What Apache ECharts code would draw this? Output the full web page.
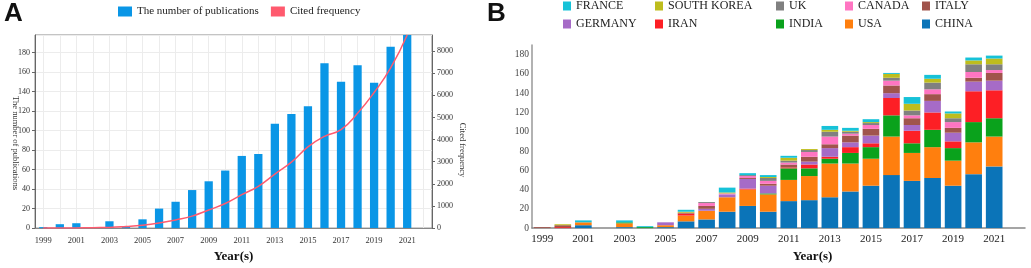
<!DOCTYPE html>
<html>
<head>
<meta charset="utf-8">
<script src="https://cdn.jsdelivr.net/npm/echarts@6/dist/echarts.min.js"></script>
<style>
  html, body { margin: 0; padding: 0; background: #fff; }
  #main { width: 1031px; height: 268px; }
</style>
</head>
<body>
<div id="main"></div>
<script>
// categories (the last slot, 2022, stays empty in both panels)
var years = ['1999','2000','2001','2002','2003','2004','2005','2006','2007','2008','2009','2010',
             '2011','2012','2013','2014','2015','2016','2017','2018','2019','2020','2021','2022'];

// panel A
var publications = [1,4,5,0,7,2,9,20,27,39,48,59,74,76,107,117,125,169,150,167,149,186,198];
var citedFreq = [0,5,10,20,30,70,130,230,370,540,820,1110,1510,1890,2440,2980,3670,4150,4450,5190,6130,7240,8730];

// panel B, stacked from the bottom
var china      = [0,0,3,0,1,0,1,7,9,17,23,17,28,29,32,38,44,55,49,52,44,56,64];
var usa        = [0,0,3,0,4,0,2,6,9,15,17,18,22,25,35,29,28,40,29,32,26,33,31];
var india      = [0,0,0,0,1,1,0,0,0,0,0,1,12,8,5,11,12,22,10,18,13,21,19];
var iran       = [0,1,0,0,0,0,0,2,0,0,1,0,1,4,2,6,4,18,13,18,7,32,29];
var germany    = [0,0,0,0,0,0,3,0,2,3,10,8,0,3,9,5,8,5,6,12,9,10,10];
var italy      = [1,2,0,0,0,0,0,1,3,0,1,2,3,5,4,7,7,8,7,7,5,4,8];
var canada     = [0,0,0,0,0,0,0,0,3,1,2,3,2,5,8,2,4,5,3,5,6,6,3];
var uk         = [0,0,0,0,0,0,0,0,1,0,1,3,2,2,5,2,2,3,5,7,4,8,6];
var southKorea = [0,1,0,0,0,0,0,1,0,1,0,1,3,1,2,1,1,4,7,4,5,4,6];
var france     = [0,0,2,0,2,1,0,2,0,5,2,2,2,0,4,3,3,1,7,4,2,3,3];

var serif = 'Liberation Serif';

var countries = [
  ['CHINA', china, '#0b74b8'],
  ['USA', usa, '#ff7f0e'],
  ['INDIA', india, '#0aa21c'],
  ['IRAN', iran, '#fd1f25'],
  ['GERMANY', germany, '#a66bc7'],
  ['ITALY', italy, '#a0544c'],
  ['CANADA', canada, '#ff75c2'],
  ['UK', uk, '#808080'],
  ['SOUTH KOREA', southKorea, '#bebd1d'],
  ['FRANCE', france, '#16c2d8']
];

var legendCols = [['FRANCE','GERMANY'],['SOUTH KOREA','IRAN'],['UK','INDIA'],['CANADA','USA'],['ITALY','CHINA']];
var legendLeft = [563, 655, 776, 845, 922];

var legends = [{
  left: 118, top: 6, padding: 0,
  icon: 'rect', itemWidth: 14, itemHeight: 10, itemGap: 12,
  textStyle: { fontFamily: serif, fontSize: 11, color: '#222' },
  data: ['The number of publications', 'Cited frequency']
}];
legendCols.forEach(function (col, i) {
  legends.push({
    orient: 'vertical', left: legendLeft[i], top: 0, padding: 0,
    icon: 'rect', itemWidth: 8, itemHeight: 9, itemGap: 6,
    textStyle: { fontFamily: serif, fontSize: 12, color: '#222' },
    data: col
  });
});

var series = [
  { name: 'The number of publications', type: 'bar', xAxisIndex: 0, yAxisIndex: 0,
    data: publications, barWidth: '50%', itemStyle: { color: '#0a96e6' } },
  { name: 'Cited frequency', type: 'line', xAxisIndex: 0, yAxisIndex: 1,
    data: citedFreq, smooth: true, showSymbol: false,
    lineStyle: { color: '#ff5a6e', width: 1.5 }, itemStyle: { color: '#ff5a6e' } }
];
countries.forEach(function (c) {
  series.push({
    name: c[0], type: 'bar', stack: 'country', xAxisIndex: 1, yAxisIndex: 2,
    data: c[1], barCategoryGap: '19%', itemStyle: { color: c[2] }
  });
});

function plain(v) { return String(v); }

var chart = echarts.init(document.getElementById('main'));
chart.setOption({
  animation: false,
  backgroundColor: '#fff',
  legend: legends,
  grid: [
    { left: 35, right: 599, top: 35, bottom: 34, show: true, borderColor: '#888', borderWidth: 1 },
    { left: 532, right: 6, top: 45, bottom: 33 }
  ],
  xAxis: [
    { type: 'category', gridIndex: 0, data: years,
      axisLine: { lineStyle: { color: '#888' } },
      axisTick: { show: false },
      axisLabel: { interval: 1, fontFamily: serif, fontSize: 8.5, color: '#333', margin: 8 },
      splitLine: { show: true, interval: 0, alignWithLabel: true, lineStyle: { color: '#ececec' } },
      name: 'Year(s)', nameLocation: 'middle', nameGap: 17,
      nameTextStyle: { fontFamily: serif, fontWeight: 'bold', fontSize: 13, color: '#111' } },
    { type: 'category', gridIndex: 1, data: years,
      axisLine: { lineStyle: { color: '#888', width: 1.5 } },
      axisTick: { show: false },
      axisLabel: { interval: 1, fontFamily: serif, fontSize: 11, color: '#222', margin: 6 },
      name: 'Year(s)', nameLocation: 'middle', nameGap: 17,
      nameTextStyle: { fontFamily: serif, fontWeight: 'bold', fontSize: 13, color: '#111', padding: [0, 0, 0, 68] } }
  ],
  yAxis: [
    { type: 'value', gridIndex: 0, min: 0, max: 198, interval: 20,
      axisLine: { show: true, lineStyle: { color: '#666' } },
      axisTick: { show: true, length: 3 },
      axisLabel: { showMaxLabel: false, formatter: plain, fontFamily: serif, fontSize: 8, color: '#333', margin: 5 },
      splitLine: { lineStyle: { color: '#ececec' } } },
    { type: 'value', gridIndex: 0, position: 'right', min: 0, max: 8730, interval: 1000,
      axisLine: { show: true, lineStyle: { color: '#666' } },
      axisTick: { show: true, length: 3 },
      axisLabel: { showMaxLabel: false, formatter: plain, fontFamily: serif, fontSize: 8, color: '#333', margin: 5 },
      splitLine: { show: false } },
    { type: 'value', gridIndex: 1, min: 0, max: 190, interval: 20,
      axisLine: { show: true, lineStyle: { color: '#999', width: 1.5 } },
      axisTick: { show: false },
      // labels sit about 5px above their values, as in the source figure
      axisLabel: { showMaxLabel: false, formatter: plain, fontFamily: serif, fontSize: 9.5, color: '#444', margin: 3, padding: [0, 0, 10, 0] },
      splitLine: { show: false } }
  ],
  graphic: [
    { type: 'text', left: 4, top: 1, style: { text: 'A', font: 'bold 26px "Liberation Sans"', fill: '#111' } },
    { type: 'text', left: 487, top: 1, style: { text: 'B', font: 'bold 26px "Liberation Sans"', fill: '#111' } },
    // both axis titles read from top to bottom
    { type: 'text', x: 15, y: 143, rotation: -Math.PI / 2,
      style: { text: 'The number of publications', font: '8.5px "Liberation Serif"', fill: '#333', align: 'center', verticalAlign: 'middle' } },
    { type: 'text', x: 462, y: 150, rotation: -Math.PI / 2,
      style: { text: 'Cited frequency', font: '8.5px "Liberation Serif"', fill: '#333', align: 'center', verticalAlign: 'middle' } }
  ],
  series: series
});
</script>
</body>
</html>
